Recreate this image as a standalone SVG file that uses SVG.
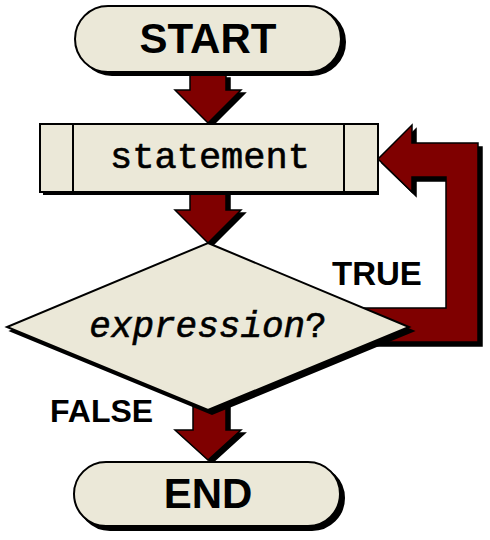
<svg xmlns="http://www.w3.org/2000/svg" width="490" height="540" viewBox="0 0 490 540">
<style>
.node{fill:#EBE8D8;stroke:#000;stroke-width:2}
.shadow{fill:#000;stroke:#000;stroke-width:2}
.arrow{fill:#7F0000;stroke:#000;stroke-width:1.5;stroke-linejoin:miter}
.ashadow{fill:#000;stroke:#000;stroke-width:1.5}
.sans{font-family:"Liberation Sans",Arial,sans-serif;font-weight:bold;fill:#000}
.mono{font-family:"Liberation Mono","Courier New",monospace;font-weight:normal;fill:#000;stroke:#000;stroke-width:0.6}
</style>
<defs>
<polygon id="down1" points="190,75 226,75 226,90 241,90 208,123 175,90 190,90"/>
<polygon id="down2" points="190,190 226,190 226,210 241,210 208,243 175,210 190,210"/>
<polygon id="down3" points="193,400 226,400 226,430 241,430 208,460 175,430 193,430"/>
<polygon id="loop" points="360,308 446,308 446,177 412,177 412,192 378,159 412,125 412,143 478,143 478,342 360,342"/>
</defs>
<g id="connectors">
<use href="#down1" class="ashadow" transform="translate(4,3)"/>
<use href="#down1" class="arrow"/>
<use href="#down2" class="ashadow" transform="translate(4,3)"/>
<use href="#down2" class="arrow"/>
<use href="#down3" class="ashadow" transform="translate(4,3)"/>
<use href="#down3" class="arrow"/>
<use href="#loop" class="ashadow" transform="translate(4,4)"/>
<use href="#loop" class="arrow"/>
</g>
<g id="start">
<rect class="shadow" x="79" y="9" width="266" height="66" rx="33"/>
<rect class="node" x="75" y="6" width="266" height="66" rx="33"/>
<text class="sans" x="208" y="53" font-size="42" text-anchor="middle">START</text>
</g>
<g id="statement">
<rect class="shadow" x="44" y="128" width="334" height="66"/>
<rect class="node" x="40" y="124" width="338" height="68"/>
<line x1="73" y1="124" x2="73" y2="192" stroke="#000" stroke-width="2"/>
<line x1="344" y1="124" x2="344" y2="192" stroke="#000" stroke-width="2"/>
<text class="mono" x="210" y="168" font-size="37" text-anchor="middle">statement</text>
</g>
<g id="decision">
<polygon class="shadow" points="212,247 413,331 212,414 11,331"/>
<polygon class="node" points="208,243 409,327 208,410 7,327"/>
<text class="mono" x="208" y="337" font-size="36" text-anchor="middle"><tspan font-style="italic">expression</tspan>?</text>
</g>
<g id="end">
<rect class="shadow" x="78" y="466" width="266" height="64" rx="32"/>
<rect class="node" x="74" y="462" width="266" height="64" rx="32"/>
<text class="sans" x="208" y="508" font-size="42" text-anchor="middle">END</text>
</g>
<g id="labels">
<text class="sans" x="332" y="285" font-size="33">TRUE</text>
<text class="sans" x="50" y="422" font-size="32">FALSE</text>
</g>
</svg>
